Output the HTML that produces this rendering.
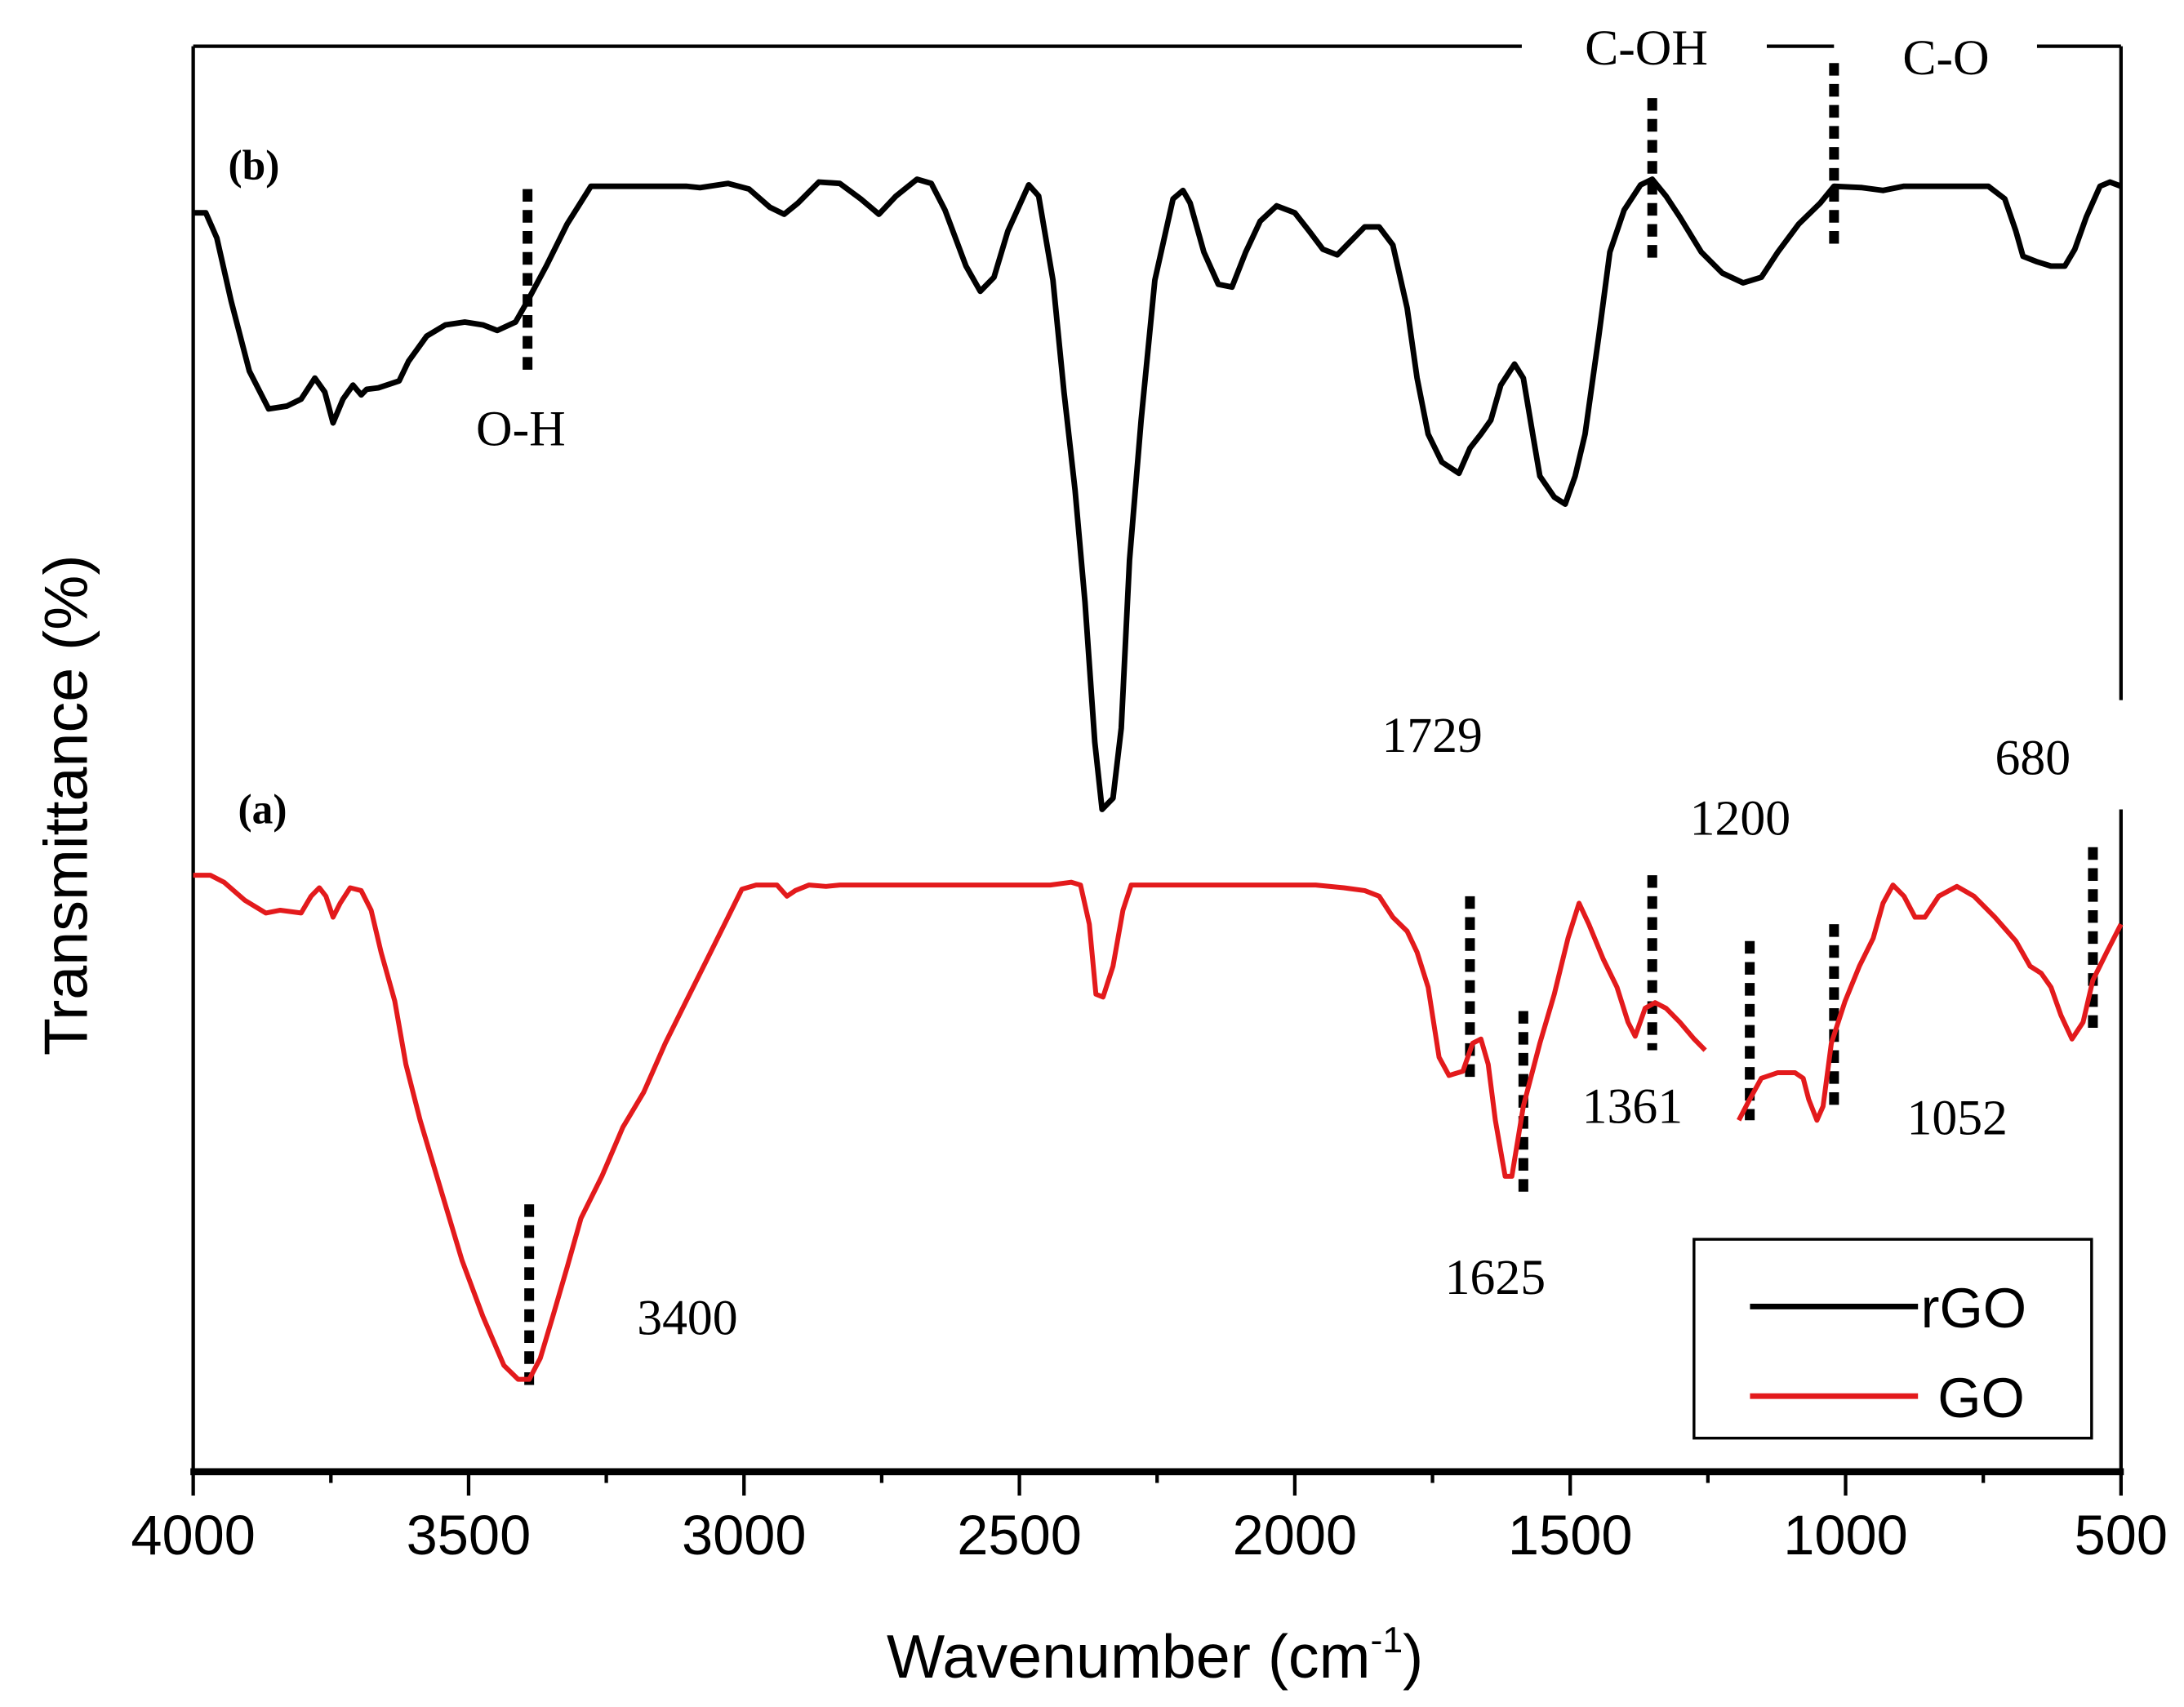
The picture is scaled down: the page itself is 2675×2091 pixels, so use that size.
<!DOCTYPE html>
<html><head><meta charset="utf-8"><style>
html,body{margin:0;padding:0;background:#fff;}
svg{display:block;}
.tick{font-family:"Liberation Sans",Arial,sans-serif;font-size:40px;fill:#000;}
.ttl{font-family:"Liberation Sans",Arial,sans-serif;font-size:44px;fill:#000;}
.ann{font-family:"Liberation Serif","Times New Roman",serif;font-size:36px;fill:#000;}
.bold{font-weight:bold;font-size:30px;}
</style></head><body>
<svg id="chart" width="2675" height="2091" viewBox="0 0 1560 1219" preserveAspectRatio="none" xmlns="http://www.w3.org/2000/svg">
<rect x="0" y="0" width="1560" height="1219" fill="#fff"/>
<g id="frame" stroke="#000" stroke-width="2.5" fill="none">
<line x1="138" y1="33" x2="138" y2="1052"/>
<line x1="138" y1="33" x2="1087" y2="33"/>
<line x1="1262" y1="33" x2="1310" y2="33"/>
<line x1="1455" y1="33" x2="1515" y2="33"/>
<line x1="1515" y1="33" x2="1515" y2="500"/>
<line x1="1515" y1="578" x2="1515" y2="1052"/>
<line x1="136" y1="1051" x2="1517" y2="1051" stroke-width="5"/>
</g>
<g id="xticks"></g>
<g id="dots"></g>
<g id="series"></g>
<text class="ttl" x="825" y="1198" text-anchor="middle">Wavenumber (cm<tspan dy="-18" font-size="26">-1</tspan><tspan dy="18">)</tspan></text>
<text class="ttl" transform="translate(62,575) rotate(-90)" text-anchor="middle">Transmittance (%)</text>
<text class="ann" x="1176" y="46" text-anchor="middle">C-OH</text>
<text class="ann" x="1390" y="53" text-anchor="middle">C-O</text>
<text class="ann bold" x="163" y="128">(b)</text>
<text class="ann bold" x="170" y="588">(a)</text>
<text class="ann" x="340" y="318">O-H</text>
<text class="ann" x="987" y="537">1729</text>
<text class="ann" x="1425" y="553">680</text>
<text class="ann" x="1207" y="596">1200</text>
<text class="ann" x="1130" y="802">1361</text>
<text class="ann" x="1362" y="810">1052</text>
<text class="ann" x="1032" y="924">1625</text>
<text class="ann" x="455" y="953">3400</text>
<g>
<rect x="1210" y="885" width="284" height="142" fill="#fff" stroke="#000" stroke-width="2"/>
<line x1="1250" y1="933" x2="1370" y2="933" stroke="#000" stroke-width="4"/>
<text class="tick" x="1372" y="948">rGO</text>
<line x1="1250" y1="997" x2="1370" y2="997" stroke="#e31a1c" stroke-width="4"/>
<text class="tick" x="1384" y="1012">GO</text>
</g>
</svg>
<script>
const tickLabels=[4000,3500,3000,2500,2000,1500,1000,500];
const rgoWn=[4000,3977,3957,3931,3898,3863,3830,3804,3779,3761,3746,3728,3710,3695,3685,3664,3626,3609,3576,3542,3507,3474,3448,3415,3393,3359,3321,3278,3207,3156,3105,3080,3029,2991,2953,2927,2902,2864,2826,2788,2755,2724,2686,2660,2635,2597,2571,2546,2521,2483,2465,2439,2419,2399,2381,2363,2350,2330,2315,2300,2279,2254,2221,2203,2190,2165,2139,2114,2089,2063,2033,2000,1974,1949,1923,1898,1873,1847,1822,1796,1778,1758,1733,1702,1682,1662,1644,1626,1601,1585,1568,1555,1529,1509,1491,1473,1448,1428,1402,1372,1351,1326,1301,1262,1224,1186,1153,1123,1085,1046,1021,970,932,894,818,741,711,691,678,652,627,602,584,563,538,520,500];
const rgoT=[900,900,882,837,787,760,762,767,782,772,750,767,777,770,774,775,780,794,812,820,822,820,816,822,837,862,892,919,919,919,919,918,921,917,904,899,907,922,921,910,899,912,924,921,902,862,844,854,887,920,912,852,772,702,622,522,474,482,532,652,752,852,910,916,907,872,849,847,872,894,905,900,887,874,870,880,890,890,877,832,782,742,722,714,732,742,752,777,792,782,742,712,697,692,712,742,812,872,902,920,924,912,897,872,857,850,854,872,892,907,919,918,916,919,919,919,910,887,869,865,862,862,874,897,919,922,919];
const goWn=[4000,3969,3944,3906,3868,3842,3804,3786,3771,3759,3746,3733,3715,3695,3677,3659,3634,3614,3588,3550,3512,3474,3436,3410,3390,3370,3347,3321,3296,3258,3220,3182,3143,3105,3067,3029,3004,2978,2940,2922,2907,2882,2851,2826,2699,2571,2444,2406,2389,2373,2361,2348,2330,2312,2297,2190,2063,1962,1911,1873,1847,1822,1796,1778,1758,1738,1720,1695,1677,1662,1649,1636,1618,1606,1585,1555,1529,1504,1484,1466,1440,1415,1395,1382,1364,1346,1326,1301,1275,1255,1230,1194,1174,1153,1123,1092,1077,1067,1052,1041,1026,1001,975,950,932,914,894,874,856,831,798,767,729,691,665,645,627,609,589,569,551,526,500];
const goT=[427,427,422,409,400,402,400,412,418,412,397,407,418,416,402,372,337,292,252,202,152,112,77,67,67,82,112,147,182,212,247,272,307,337,367,397,417,420,420,412,416,420,419,420,420,420,420,422,420,392,342,340,362,402,420,420,420,420,418,416,412,397,387,372,347,297,284,287,307,310,292,252,212,212,262,307,342,382,407,392,367,347,322,312,332,336,332,322,310,302,null,252,267,282,286,286,282,267,252,262,307,337,362,382,407,420,412,397,397,412,419,412,397,380,362,357,347,327,310,322,352,372,392];
const markerWn=[3393,1351,1021,1682,1585,1351,1174,1021,551,3390];
const markerTop=[917,982,1007,412,330,427,380,392,447,192];
const markerBot=[787,867,872,282,197,302,252,262,314,59];

const NS='http://www.w3.org/2000/svg';
function xs(w){return 138+(4000-w)/3500*1377;}
function ys(t){return 1052-t;}
const xt=document.getElementById('xticks');
for(let w=4000;w>=500;w-=250){
  const major=w%500===0;
  const l=document.createElementNS(NS,'line');
  l.setAttribute('x1',xs(w));l.setAttribute('x2',xs(w));
  l.setAttribute('y1',1052);l.setAttribute('y2',major?1068:1059);
  l.setAttribute('stroke','#000');l.setAttribute('stroke-width','2.5');
  
  
  xt.appendChild(l);
}
tickLabels.forEach(v=>{
  const t=document.createElementNS(NS,'text');
  t.setAttribute('x',xs(v));t.setAttribute('y',1110);
  t.setAttribute('text-anchor','middle');t.setAttribute('class','tick');
  t.textContent=v;
  
  
  xt.appendChild(t);
});
const dg=document.getElementById('dots');
markerWn.forEach((w,i)=>{
  const l=document.createElementNS(NS,'line');
  l.setAttribute('x1',xs(w));l.setAttribute('x2',xs(w));
  l.setAttribute('y1',ys(markerTop[i]));l.setAttribute('y2',ys(markerBot[i]));
  l.setAttribute('stroke','#000');l.setAttribute('stroke-width','7');
  l.setAttribute('stroke-dasharray','9 6');
  
  
  dg.appendChild(l);
});
function pathOf(wn,t){
  let d='',pen=false;
  for(let i=0;i<wn.length;i++){
    if(t[i]===null){pen=false;continue;}
    d+=(pen?'L':'M')+xs(wn[i]).toFixed(1)+','+ys(t[i]).toFixed(1);
    pen=true;
  }
  return d;
}
const sg=document.getElementById('series');
const pr=document.createElementNS(NS,'path');
pr.setAttribute('d',pathOf(rgoWn,rgoT));
pr.setAttribute('fill','none');pr.setAttribute('stroke','#000');pr.setAttribute('stroke-width','4');
pr.setAttribute('stroke-linejoin','round');


sg.appendChild(pr);
const pg=document.createElementNS(NS,'path');
pg.setAttribute('d',pathOf(goWn,goT));
pg.setAttribute('fill','none');pg.setAttribute('stroke','#e31a1c');pg.setAttribute('stroke-width','3.5');
pg.setAttribute('stroke-linejoin','round');


sg.appendChild(pg);
</script>
</body></html>
